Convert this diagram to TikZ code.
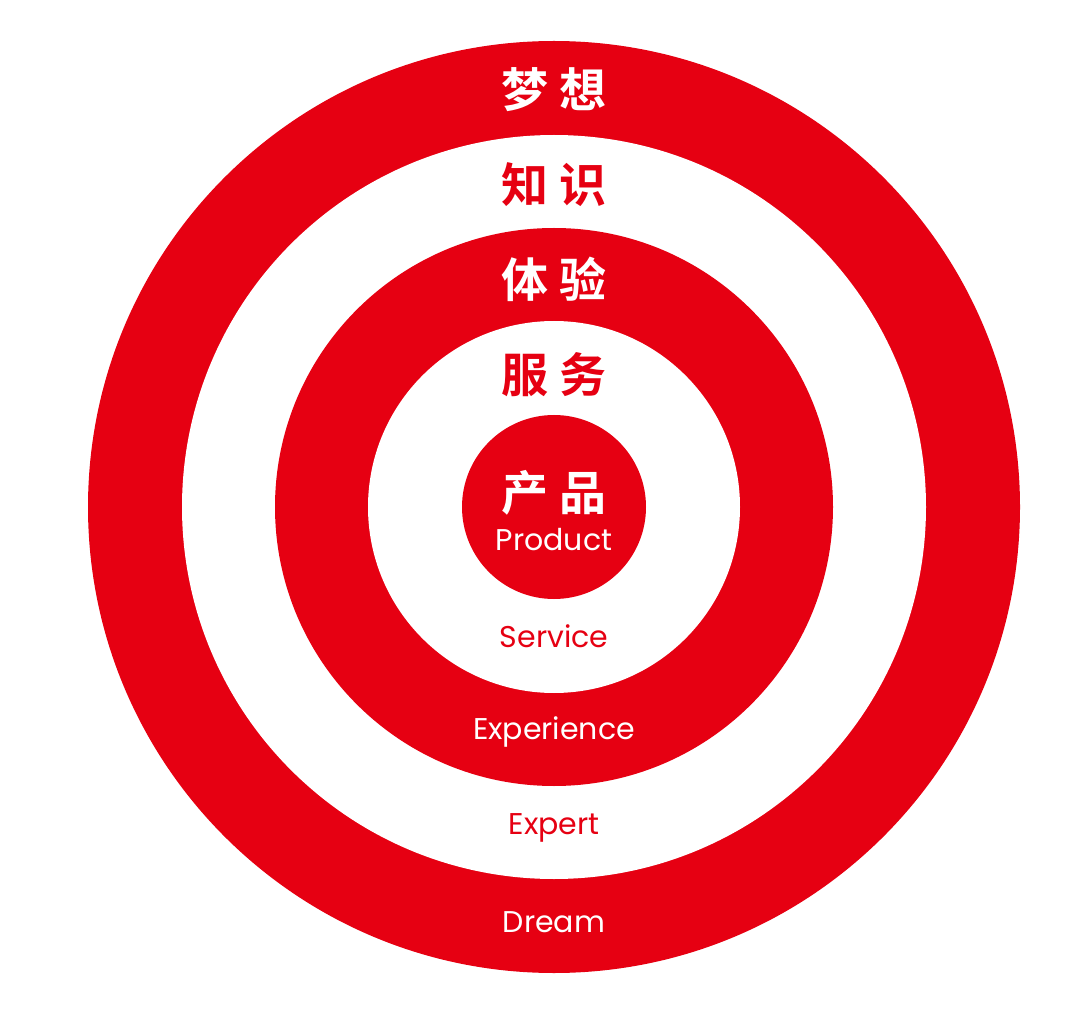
\documentclass[tikz,border=0pt]{standalone}
\usepackage{fontspec}
\newfontfamily\cjk{Noto Sans CJK SC}[BoldFont={Noto Sans CJK SC Bold}]
\newfontfamily\latinf{Poppins}
\definecolor{cred}{RGB}{230,0,18}
\begin{document}
\begin{tikzpicture}[x=1pt,y=-1pt,
  zh/.style={font=\cjk\bfseries\fontsize{47}{50}\selectfont, inner sep=0pt},
  en/.style={font=\latinf\fontsize{30}{34}\selectfont, inner sep=0pt},
  onred/.style={text=white},
  onwhite/.style={text=cred}]
\useasboundingbox (0,0) rectangle (1080,1016);
\fill[white] (0,0) rectangle (1080,1016);
\coordinate (c) at (554,507);
\fill[cred] (c) circle (466);
\fill[white] (c) circle (372);
\fill[cred] (c) circle (279);
\fill[white] (c) circle (186);
\fill[cred] (c) circle (92);
\node[zh,onred] (dream) at (554,90) {梦\hspace{12pt}想};
\node[zh,onwhite] (know) at (554,185) {知\hspace{12pt}识};
\node[zh,onred] (exp) at (554,279) {体\hspace{12pt}验};
\node[zh,onwhite] (serv) at (554,375) {服\hspace{12pt}务};
\node[zh,onred] (prod) at (554,493) {产\hspace{12pt}品};
\node[en,onred] (prodE) at (554,540) {Product};
\node[en,onwhite] (servE) at (554,636) {Service};
\node[en,onred] (expE) at (554,732) {Experience};
\node[en,onwhite] (expertE) at (554,828) {Expert};
\node[en,onred] (dreamE) at (554,922) {Dream};
\end{tikzpicture}
\end{document}
